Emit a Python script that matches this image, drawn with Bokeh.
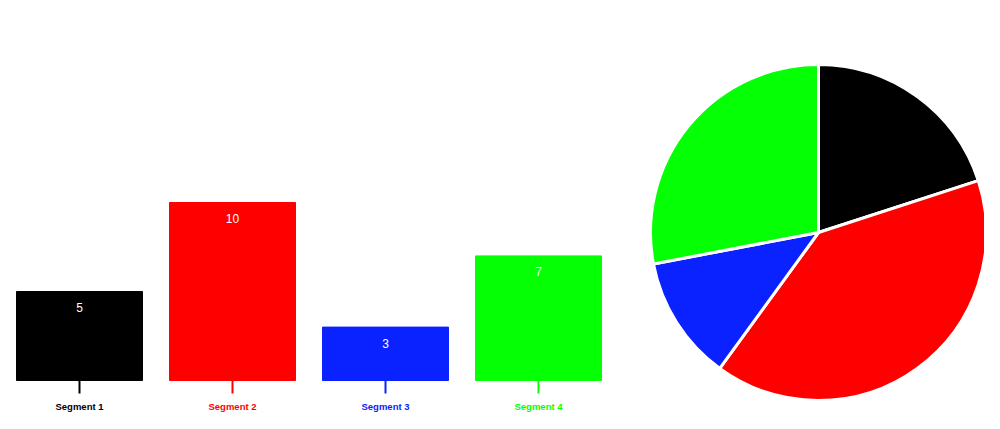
import math
from bokeh.plotting import figure
from bokeh.layouts import row
from bokeh.models import ColumnDataSource, Range1d
from bokeh.core.properties import value
from bokeh.embed import file_html
from bokeh.resources import INLINE

# ---- data ----
categories = ["Segment 1", "Segment 2", "Segment 3", "Segment 4"]
values = [5, 10, 3, 7]
colors = ["#000000", "#ff0000", "#0a22ff", "#05ff05"]

# ---- bar chart ----
BAR_W, H = 622, 413
px_per_x = 153.0
px_per_y = 17.8
x0 = -79.0 / px_per_x
y0 = -(H - 380.0) / px_per_y

xs = list(range(len(categories)))
src = ColumnDataSource(dict(
    x=xs, top=values, color=colors, cat=categories,
    lab=[str(v) for v in values],
    zero=[0] * len(values),
    tick_end=[-13.0 / px_per_y] * len(values),
))

p = figure(width=BAR_W, height=H, output_backend="svg", toolbar_location=None,
           x_range=Range1d(x0, x0 + BAR_W / px_per_x),
           y_range=Range1d(y0, y0 + H / px_per_y),
           min_border=0, min_border_left=0, min_border_right=0,
           min_border_top=0, min_border_bottom=0)
p.axis.visible = False
p.grid.visible = False
p.outline_line_color = None
p.background_fill_color = "white"
p.border_fill_color = "white"

p.vbar(x="x", top="top", bottom=0, width=126.0 / px_per_x, color="color",
       line_color="color", source=src)
p.segment(x0="x", y0="zero", x1="x", y1="tick_end", line_color="color",
          line_width=2, source=src)
p.text(x="x", y="top", text="lab", y_offset=16, text_color="white",
       text_align="center", text_baseline="middle",
       text_font=value("Liberation Sans"), text_font_size="12px", source=src)
p.text(x="x", y="zero", text="cat", y_offset=26, text_color="color",
       text_align="center", text_baseline="middle", text_font_style="bold",
       text_font=value("Liberation Sans"), text_font_size="9.5px", source=src)

# ---- pie chart ----
PIE_W = 362
cx_px, cy_px, radius = 818 - BAR_W, 232, 168
total = float(sum(values))
starts, ends = [], []
cum = 0.0
for v in values:
    starts.append(math.pi / 2 - 2 * math.pi * cum / total)
    cum += v
    ends.append(math.pi / 2 - 2 * math.pi * cum / total)
psrc = ColumnDataSource(dict(start=starts, end=ends, color=colors))

q = figure(width=PIE_W, height=H, output_backend="svg", toolbar_location=None,
           x_range=Range1d(-cx_px, PIE_W - cx_px),
           y_range=Range1d(-(H - cy_px), cy_px),
           min_border=0, min_border_left=0, min_border_right=0,
           min_border_top=0, min_border_bottom=0)
q.axis.visible = False
q.grid.visible = False
q.outline_line_color = None
q.background_fill_color = "white"
q.border_fill_color = "white"
q.wedge(x=0, y=0, radius=radius, radius_units="screen",
        start_angle="start", end_angle="end", direction="clock",
        fill_color="color", line_color="white", line_width=3, source=psrc)

layout = row(p, q, spacing=0)
open("out.html", "w").write(file_html(layout, INLINE))
